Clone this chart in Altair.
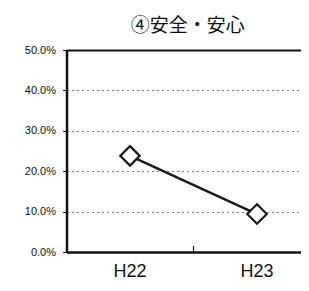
import altair as alt
import pandas as pd

years = ["H22", "H23"]
values = [0.238, 0.094]
y_ticks = [0.0, 0.1, 0.2, 0.3, 0.4, 0.5]

df = pd.DataFrame({"year": years, "value": values})

base = alt.Chart(df)

x_scale = alt.Scale(paddingInner=0, paddingOuter=0, range=[0, 254])
x_enc = alt.X("year:N", sort=years, title=None, scale=x_scale,
              axis=alt.Axis(labelAngle=0, ticks=False, labelPadding=10,
                            labelFontSize=18, labelColor="#111",
                            labelFont="Liberation Sans",
                            domainColor="#111", domainWidth=2.5, grid=False))
y_enc = alt.Y("value:Q", title=None,
              scale=alt.Scale(domain=[0, 0.5], nice=False),
              axis=alt.Axis(values=y_ticks, format=".1%", labelFontSize=11,
                            labelFont="Liberation Sans", labelColor="#111",
                            tickSize=4, tickColor="#111", labelPadding=7,
                            domainColor="#111", domainWidth=2.5,
                            grid=True,
                            gridColor={"condition": {"test": "datum.value >= 0.5", "value": "#111"}, "value": "#777"},
                            gridDash={"condition": {"test": "datum.value >= 0.5", "value": []}, "value": [2, 3]},
                            gridWidth={"condition": {"test": "datum.value >= 0.5", "value": 2}, "value": 1}))

line = base.mark_line(color="#1a1a1a", strokeWidth=2.5).encode(x=x_enc, y=y_enc)
points = base.mark_point(shape="diamond", size=380, filled=True, fill="white",
                         stroke="#1a1a1a", strokeWidth=2.2, opacity=1).encode(
    x=alt.X("year:N", sort=years, scale=x_scale), y="value:Q")

tick = base.transform_filter(alt.datum.year == years[0]).mark_rule(
    color="#111", strokeWidth=1.2).encode(
    x=alt.X("year:N", sort=years, bandPosition=1, scale=x_scale),
    y=alt.value(202), y2=alt.value(196))

chart = alt.layer(line, points, tick).properties(
    width=234.5, height=202,
    title=alt.TitleParams("④安全・安心", font="Noto Sans CJK JP", fontSize=19,
                          fontWeight="normal", color="#111", offset=8,
                          anchor="middle", frame="group", dx=4),
    padding={"left": 58.5, "top": 42, "right": 0, "bottom": 31},
    autosize=alt.AutoSizeParams(type="none"),
).configure_view(stroke=None)

chart.save("out.html", embed_options={"renderer": "svg", "actions": False})
